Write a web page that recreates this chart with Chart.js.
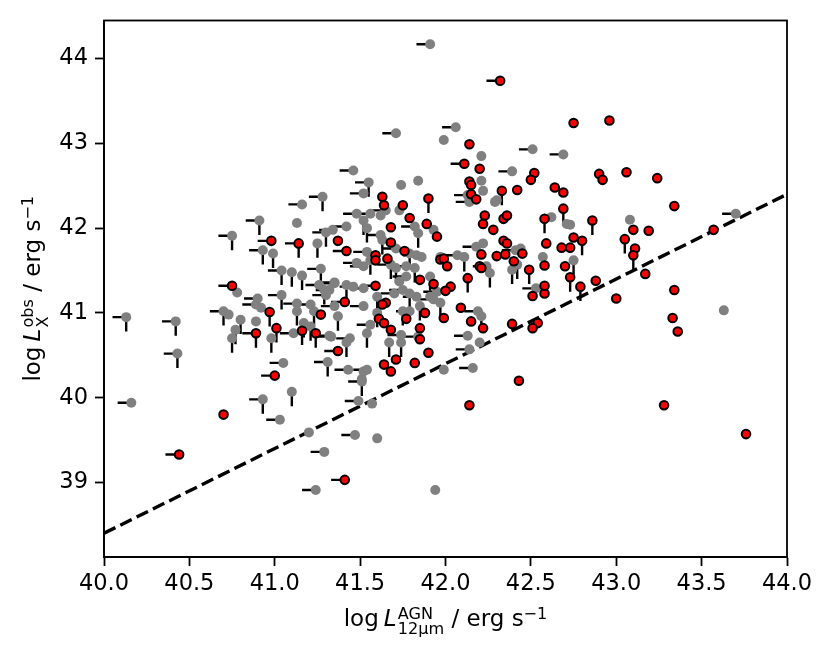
<!DOCTYPE html>
<html>
<head>
<meta charset="utf-8">
<script src="https://cdn.jsdelivr.net/npm/chart.js@4.4.1/dist/chart.umd.min.js"></script>
<style>
  body { margin: 0; background: #fff; }
  canvas { display: block; }
</style>
</head>
<body>
<canvas id="chart" width="830" height="659"></canvas>
<script>
// sources without the red flag (grey)
const grayX = [41.28,41.16,41.91,42.06,41.71,41.99,42.21,42.51,42.69,41.46,42.39,41.55,41.52,41.74,41.84,42.29,42.21,42.22,42.13,42.14,
  43.70,43.08,43.63,42.75,42.73,40.16,40.93,41.10,41.03,41.20,41.29,41.24,41.94,41.47,41.60,41.49,41.57,41.51,40.13,40.42,
  40.43,41.05,41.31,40.78,40.75,40.91,40.93,40.99,41.13,41.30,41.25,41.04,41.10,41.16,41.27,41.04,40.70,40.73,40.90,40.89,
  40.92,40.80,40.77,40.75,40.89,40.98,41.13,41.13,41.11,41.17,41.21,41.32,41.21,41.23,41.26,41.29,41.30,41.35,41.48,41.56,
  41.52,41.62,41.65,41.42,41.34,41.54,41.62,41.63,41.73,41.82,41.84,41.93,41.71,41.79,41.83,41.86,41.54,41.56,41.52,41.48,
  41.68,41.71,41.77,41.82,41.77,42.07,42.11,42.18,42.22,42.24,42.26,42.41,42.44,42.39,42.57,42.53,41.35,41.42,41.46,41.32,
  41.35,41.37,41.52,41.60,41.70,41.73,41.75,41.79,41.83,41.91,41.95,41.91,41.97,41.93,41.85,41.79,41.75,41.52,41.60,41.56,
  41.54,41.44,41.42,41.33,41.67,41.74,41.74,41.84,42.19,42.21,42.13,42.14,42.20,41.99,42.16,41.43,41.52,41.54,41.51,41.97,
  42.14,42.30,42.62,42.71,42.42];
const grayY = [42.37,42.28,44.17,43.19,43.12,43.04,42.85,42.93,42.87,42.68,42.67,42.54,42.41,42.51,42.56,42.31,42.56,42.44,42.39,42.31,
  42.17,42.10,41.03,41.62,42.04,39.94,39.98,40.07,39.74,39.59,39.36,38.91,38.91,39.56,39.52,39.96,39.93,40.19,40.95,40.90,
  40.52,40.41,40.42,41.24,41.91,42.09,41.74,41.70,42.06,41.95,41.82,41.50,41.48,41.44,41.52,41.21,41.02,40.98,41.17,41.10,
  41.06,40.92,40.80,40.70,40.90,40.70,41.11,41.02,40.76,40.88,40.84,40.73,41.10,41.02,41.33,41.27,41.21,41.36,42.17,42.17,
  42.09,42.15,42.21,42.02,41.98,42.00,41.92,41.86,42.21,42.02,41.94,41.98,41.76,41.70,41.68,41.66,41.72,41.62,41.55,41.59,
  41.57,41.53,41.55,41.53,41.43,41.68,41.66,41.78,41.82,41.55,41.47,41.74,41.76,41.51,41.66,41.29,41.35,41.33,41.31,41.27,
  41.08,40.96,41.29,41.19,41.23,41.37,41.27,41.23,41.19,41.43,41.25,41.19,41.12,41.16,41.08,41.02,41.02,41.08,41.00,40.86,
  40.76,40.70,40.65,40.72,40.65,40.74,40.65,40.72,41.02,40.96,40.73,40.57,40.65,40.33,40.35,40.33,40.31,40.33,40.22,41.66,
  42.33,42.33,42.13,42.05,41.57];
// limit flags: L = limit bar to the left, D = limit bar downwards
const grayLim = ['LD','L','L','L','L','','','L','L','L','L','LD','L','','','','','','L','L',
  'L','','','D','','L','LD','D','L','','L','L','','L','','L','','LD','LD','LD',
  'LD','L','LD','','LD','LD','LD','D','','LD','D','LD','D','D','LD','LD','LD','','L','L',
  '','D','D','D','','D','L','D','L','D','D','L','L','D','L','D','L','L','L','L',
  'D','','L','L','L','D','L','D','','L','D','','L','D','L','','L','D','L','L',
  'LD','D','L','D','L','L','D','L','','L','D','L','','D','','L','L','D','L','L',
  'L','D','L','D','L','','L','D','L','D','L','','D','L','D','L','D','L','D','L',
  'D','L','D','L','D','L','D','L','L','D','L','L','','','L','L','D','L','','',
  '','','','','D'];

// flagged sources (red)
const redX = [42.32,42.75,42.96,42.14,42.11,42.20,42.52,42.50,42.64,42.69,42.90,42.92,43.06,43.24,43.34,43.57,43.10,43.19,42.86,43.05,
  43.11,43.10,43.17,43.34,43.33,43.36,43.00,42.88,42.79,42.73,42.70,42.73,42.68,42.75,42.80,42.69,43.28,43.76,42.43,42.14,
  41.41,40.44,40.70,41.00,41.37,40.75,40.98,41.14,41.37,40.89,40.97,41.01,41.16,41.24,41.27,41.63,41.64,41.75,41.90,42.14,
  42.15,42.15,42.18,42.33,42.42,41.79,41.89,41.68,41.42,41.68,41.95,41.59,41.59,41.66,41.76,41.97,41.99,42.01,41.85,41.93,
  42.03,42.00,41.59,41.41,41.65,41.63,41.88,41.77,41.61,41.64,41.68,41.85,41.85,41.99,41.90,41.64,41.68,41.71,41.82,42.09,
  42.15,42.22,42.39,42.54,42.51,42.51,42.58,42.58,42.49,42.58,42.59,42.58,42.34,42.36,42.22,42.23,42.28,42.34,42.36,42.30,
  42.35,42.40,42.45,42.21,42.20,42.21,42.13];
const redY = [43.74,43.24,43.27,42.99,42.76,42.70,42.65,42.57,42.48,42.42,42.64,42.57,42.66,42.59,42.26,41.98,41.98,41.97,42.09,41.87,
  41.76,41.68,41.46,41.27,40.94,40.78,41.17,41.38,41.31,41.42,41.55,41.77,41.77,41.89,41.85,42.23,39.91,39.57,40.20,39.91,
  39.03,39.33,39.80,40.26,40.55,41.32,41.85,41.82,41.85,40.76,41.01,40.82,40.79,40.76,40.98,42.37,42.27,42.27,42.35,42.55,
  42.51,42.40,42.34,42.44,42.45,42.12,42.05,42.01,41.73,41.83,41.90,41.68,41.62,41.64,41.73,41.63,41.64,41.55,41.39,41.34,
  41.31,41.26,41.32,41.13,41.12,41.10,41.00,40.93,40.93,40.88,40.80,40.82,40.69,40.94,40.53,40.39,40.31,40.45,40.41,41.06,
  40.90,40.82,40.87,40.88,40.82,41.20,41.23,41.32,41.51,41.56,41.82,42.11,42.11,42.15,42.05,42.15,41.98,41.85,41.82,41.67,
  41.69,41.61,41.70,41.69,41.55,41.53,41.41];
const redLim = ['L','','','','L','','','','','','','','','','','','','','D','D',
  '','D','','','','','','','D','D','','','','','D','D','','','','',
  'L','L','','L','L','L','L','LD','','LD','D','D','D','D','','','','','D','',
  '','','','D','','','','','L','','','','','','','','','','','',
  '','','L','L','','','','','','','','','','','','','','','','',
  '','','','','','','','','D','','','D','','','','','','','','',
  '','','','','','','D'];

// one-to-one offset line
const lineX = [40.0, 44.0];
const lineY = [38.4, 42.4];

const xTicks = [40.0, 40.5, 41.0, 41.5, 42.0, 42.5, 43.0, 43.5, 44.0];
const yTicks = [39, 40, 41, 42, 43, 44];

const limDx = 0.08;
const limDy = 0.17;
const FONT = '"DejaVu Sans"';

function pts(xs, ys) {
  return xs.map((x, i) => ({ x: x, y: ys[i] }));
}

const limitBars = {
  id: 'limitBars',
  beforeDatasetsDraw(chart) {
    const { ctx, scales: { x, y }, chartArea } = chart;
    ctx.save();
    ctx.beginPath();
    ctx.rect(chartArea.left, chartArea.top, chartArea.right - chartArea.left, chartArea.bottom - chartArea.top);
    ctx.clip();
    ctx.strokeStyle = '#000';
    ctx.lineWidth = 2.4;
    chart.data.datasets.forEach(ds => {
      if (!ds.lims) return;
      ds.data.forEach((p, i) => {
        const code = ds.lims[i] || '';
        const px = x.getPixelForValue(p.x);
        const py = y.getPixelForValue(p.y);
        ctx.beginPath();
        if (code.includes('L')) {
          ctx.moveTo(px, py);
          ctx.lineTo(x.getPixelForValue(p.x - limDx), py);
        }
        if (code.includes('D')) {
          ctx.moveTo(px, py);
          ctx.lineTo(px, y.getPixelForValue(p.y - limDy));
        }
        ctx.stroke();
      });
    });
    ctx.restore();
  }
};

// small mathtext-like writer: parts with size factor s, shift dy (em), italic, stacked scripts
function drawMath(ctx, parts, size) {
  const laid = [];
  let cx = 0, pend = 0;
  parts.forEach(p => {
    const f = (p.it ? 'italic ' : '') + (size * (p.s || 1)).toFixed(1) + 'px ' + FONT;
    ctx.font = f;
    const w = p.gap ? p.gap * size : ctx.measureText(p.t).width;
    laid.push({ p: p, x: cx, f: f });
    if (p.keep) { pend = w; } else { cx += Math.max(w, pend); pend = 0; }
  });
  laid.forEach(l => {
    if (l.p.gap) return;
    ctx.font = l.f;
    ctx.fillText(l.p.t, l.x - cx / 2, (l.p.dy || 0) * size);
  });
}

const frameAndLabels = {
  id: 'frameAndLabels',
  afterDraw(chart) {
    const { ctx, chartArea: a } = chart;
    ctx.save();
    ctx.strokeStyle = '#000';
    ctx.lineWidth = 1.8;
    ctx.strokeRect(a.left, a.top, a.right - a.left, a.bottom - a.top);
    ctx.fillStyle = '#000';
    ctx.textBaseline = 'alphabetic';
    ctx.textAlign = 'left';
    const size = 23;
    ctx.save();
    ctx.translate((a.left + a.right) / 2, 626);
    drawMath(ctx, [
      { t: 'log' }, { gap: 0.22 }, { t: 'L', it: true }, { gap: 0.05 },
      { t: '12\u03bcm', s: 0.7, dy: 0.33, keep: true }, { t: 'AGN', s: 0.7, dy: -0.3 },
      { t: ' / erg s' }, { t: '\u22121', s: 0.7, dy: -0.3 }
    ], size);
    ctx.restore();
    ctx.save();
    ctx.translate(40, (a.top + a.bottom) / 2);
    ctx.rotate(-Math.PI / 2);
    drawMath(ctx, [
      { t: 'log' }, { gap: 0.22 }, { t: 'L', it: true }, { gap: 0.05 },
      { t: 'X', s: 0.7, dy: 0.33, keep: true }, { t: 'obs', s: 0.7, dy: -0.3 },
      { t: ' / erg s' }, { t: '\u22121', s: 0.7, dy: -0.3 }
    ], size);
    ctx.restore();
    ctx.restore();
  }
};

new Chart(document.getElementById('chart').getContext('2d'), {
  type: 'scatter',
  data: {
    datasets: [
      {
        type: 'line',
        data: pts(lineX, lineY),
        borderColor: '#000',
        borderWidth: 3.4,
        borderDash: [12.7, 5.5],
        pointRadius: 0,
        fill: false,
        order: 3
      },
      {
        data: pts(grayX, grayY),
        lims: grayLim,
        backgroundColor: '#808080',
        borderWidth: 0,
        pointRadius: 5,
        order: 2
      },
      {
        data: pts(redX, redY),
        lims: redLim,
        backgroundColor: '#ff0000',
        borderColor: '#000',
        borderWidth: 2,
        pointRadius: 4.3,
        order: 1
      }
    ]
  },
  options: {
    responsive: false,
    animation: false,
    devicePixelRatio: 1,
    layout: { padding: { top: 17, right: 43, left: 0, bottom: 0 } },
    plugins: { legend: { display: false }, tooltip: { enabled: false } },
    scales: {
      x: {
        type: 'linear',
        min: 40.0,
        max: 44.0,
        afterFit(scale) { scale.height = 102; },
        afterBuildTicks(scale) { scale.ticks = xTicks.map(v => ({ value: v })); },
        grid: { drawOnChartArea: false, tickLength: 9, tickColor: '#000', tickWidth: 1.8 },
        border: { display: true, color: '#000', width: 1.8 },
        ticks: {
          color: '#000',
          padding: 5,
          maxRotation: 0,
          font: { family: 'DejaVu Sans', size: 22.5 },
          callback: v => v.toFixed(1)
        }
      },
      y: {
        type: 'linear',
        min: 38.12,
        max: 44.45,
        afterFit(scale) { scale.width = 104; },
        afterBuildTicks(scale) { scale.ticks = yTicks.map(v => ({ value: v })); },
        grid: { drawOnChartArea: false, tickLength: 9, tickColor: '#000', tickWidth: 1.8 },
        border: { display: true, color: '#000', width: 1.8 },
        ticks: {
          color: '#000',
          padding: 7,
          font: { family: 'DejaVu Sans', size: 22.5 },
          callback: v => String(v)
        }
      }
    }
  },
  plugins: [limitBars, frameAndLabels]
});
</script>
</body>
</html>
